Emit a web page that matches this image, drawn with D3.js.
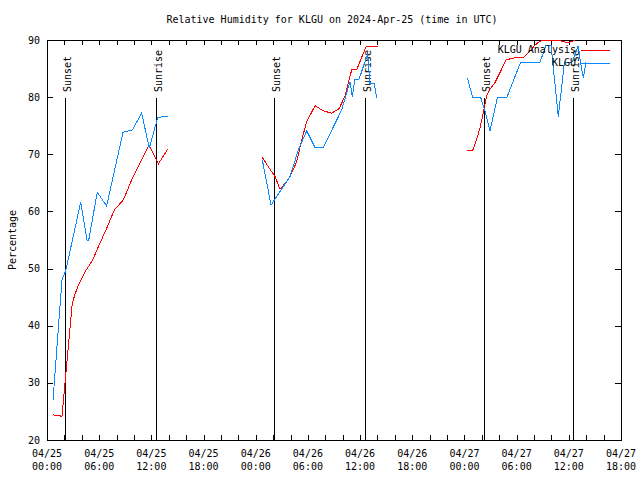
<!DOCTYPE html>
<html>
<head>
<meta charset="utf-8">
<script src="https://cdn.jsdelivr.net/npm/d3@7"></script>
<style>
html,body{margin:0;padding:0;background:#fff;}
text{font-family:"DejaVu Sans Mono","Liberation Mono",monospace;font-size:10px;fill:#000;}
</style>
</head>
<body>
<svg id="chart" width="640" height="480"></svg>
<script>
// ---- data (hours after 2024-04-25 00:00 UTC; null = gap) ----
const analysisHours = [0.69,1.55,1.72,2.9,3.2,3.53,3.9,4.37,4.75,5.25,5.9,6.86,7.74,8.77,9.81,10.89,11.73,12.8,13.88,
  null,
  24.76,25.45,26.22,26.79,27.37,27.94,28.71,29.29,29.86,30.82,31.77,32.74,33.6,34.26,35.04,35.61,36.7,38.02,
  null,
  48.33,48.95,49.41,49.79,50.17,50.56,50.94,51.51,52.09,52.78,53.24,53.81,54.77,55.16,55.73,56.11,56.69,57.64,58.61,59.18,59.94,60.71,61.05];
const analysisValues = [24.4,24.2,24.1,43.9,45.4,46.8,48.0,49.45,50.3,51.5,53.8,57.05,60.25,62.0,65.8,69.0,71.6,68.3,70.9,
  null,
  69.45,67.8,66.1,63.9,64.9,66.1,68.7,72.5,75.7,78.5,77.6,77.2,78.0,80.2,84.8,84.8,88.9,88.9,
  null,
  70.7,70.7,72.6,74.65,77.3,80.2,81.4,82.55,84.3,86.5,86.7,86.9,86.9,87.5,88.4,89.1,89.8,90.0,90.0,89.8,89.5,90.0,90.4];
const obsHours = [0.69,1.72,2.15,3.87,4.6,4.8,5.78,6.86,8.74,9.81,10.89,11.76,12.73,13.88,
  null,
  24.76,25.76,27.94,28.9,29.86,30.82,31.77,33.88,34.84,35.1,35.41,35.87,36.87,37.14,37.63,37.91,
  null,
  48.33,48.95,49.87,50.37,50.94,51.78,52.86,54.47,56.69,57.38,57.95,58.79,59.5,60.37,61.09,61.34,61.67,61.98];
const obsValues = [27.0,48.0,49.6,61.6,55.0,55.0,63.35,60.95,73.85,74.25,77.2,71.05,76.45,76.7,
  null,
  69.0,61.1,66.1,70.75,74.1,71.2,71.2,77.75,82.7,80.1,83.1,83.1,87.55,82.4,82.4,79.8,
  null,
  83.4,79.9,79.9,77.6,74.1,79.9,79.9,86.15,86.15,89.1,89.1,76.6,86.1,86.1,89.0,86.1,83.4,86.1];
const sunsetHours = [2.1, 26.15, 50.2];
const sunriseHours = [12.55, 36.55, 60.5];
const yTicks = [20,30,40,50,60,70,80,90];
const seriesNames = ["KLGU Analysis","KLGU"];
const seriesColors = ["#ff0000","#0a88ff"];
const titleText = "Relative Humidity for KLGU on 2024-Apr-25 (time in UTC)";
const yLabel = "Percentage";

// ---- chart ----
const base = Date.UTC(2024,3,25,0,0);
const toDate = h => new Date(base + h*3600e3);
const L = 47, R = 621, T = 40, B = 440;
const svg = d3.select("#chart");
const x = d3.scaleUtc().domain([toDate(0), toDate(66)]).range([L, R]);
const y = d3.scaleLinear().domain([20, 90]).range([B, T]);
const px = v => Math.round(v) + 0.5;

// clip
svg.append("defs").append("clipPath").attr("id","clip")
  .append("rect").attr("x",L).attr("y",T).attr("width",R-L+1).attr("height",B-T+1);

// title
svg.append("text").attr("x",332).attr("y",23).attr("text-anchor","middle").text(titleText);
// y label
svg.append("text").attr("transform","translate(16,240) rotate(-90)").attr("text-anchor","middle").text(yLabel);

const g = svg.append("g").attr("shape-rendering","crispEdges");

// y ticks (left and right, inward)
yTicks.forEach(v => {
  const yy = px(y(v));
  g.append("line").attr("x1",L).attr("x2",L+6).attr("y1",yy).attr("y2",yy).attr("stroke","#000");
  g.append("line").attr("x1",R-6).attr("x2",R).attr("y1",yy).attr("y2",yy).attr("stroke","#000");
  svg.append("text").attr("x",40).attr("y",y(v)+3.5).attr("text-anchor","end").text(v);
});

// x ticks every 2 hours (bottom & top, inward)
const minor = d3.utcHour.every(2).range(toDate(0), toDate(66.01));
minor.forEach(d => {
  const xx = px(x(d));
  g.append("line").attr("x1",xx).attr("x2",xx).attr("y1",B).attr("y2",B-5).attr("stroke","#000");
  g.append("line").attr("x1",xx).attr("x2",xx).attr("y1",T).attr("y2",T+5).attr("stroke","#000");
});
const major = d3.utcHour.every(6).range(toDate(0), toDate(66.01));
const fDay = d3.utcFormat("%m/%d"), fTime = d3.utcFormat("%H:%M");
major.forEach(d => {
  const t = svg.append("text").attr("text-anchor","middle");
  t.append("tspan").attr("x",x(d)).attr("y",457).text(fDay(d));
  t.append("tspan").attr("x",x(d)).attr("y",470).text(fTime(d));
});

// sunset / sunrise lines
function sunLine(h, label){
  const xx = px(x(toDate(h)));
  g.append("line").attr("x1",xx).attr("x2",xx).attr("y1",98).attr("y2",B).attr("stroke","#000");
  svg.append("text").attr("transform",`translate(${xx+5},92) rotate(-90)`).attr("text-anchor","start").text(label);
}
sunsetHours.forEach(h => sunLine(h,"Sunset"));
sunriseHours.forEach(h => sunLine(h,"Sunrise"));

// series
const line = d3.line()
  .defined(d => d[0] != null && d[1] != null)
  .x(d => x(toDate(d[0])))
  .y(d => y(d[1]));
const aData = analysisHours.map((h,i) => [h, analysisValues[i]]);
const oData = obsHours.map((h,i) => [h, obsValues[i]]);
const plot = svg.append("g").attr("clip-path","url(#clip)");
plot.append("path").datum(aData).attr("d",line).attr("fill","none")
  .attr("stroke",seriesColors[0]).attr("stroke-width",1).attr("shape-rendering","crispEdges");
plot.append("path").datum(oData).attr("d",line).attr("fill","none")
  .attr("stroke",seriesColors[1]).attr("stroke-width",1).attr("shape-rendering","crispEdges");

// legend
seriesNames.forEach((n,i) => {
  const ly = 49.5 + i*13;
  svg.append("text").attr("x",576).attr("y",ly+3.5).attr("text-anchor","end").text(n);
  g.append("line").attr("x1",581).attr("x2",610).attr("y1",Math.round(ly)+0.5).attr("y2",Math.round(ly)+0.5)
    .attr("stroke",seriesColors[i]);
});

// border
g.append("rect").attr("x",L+0.5).attr("y",T+0.5).attr("width",R-L).attr("height",B-T)
  .attr("fill","none").attr("stroke","#000");
</script>
</body>
</html>
